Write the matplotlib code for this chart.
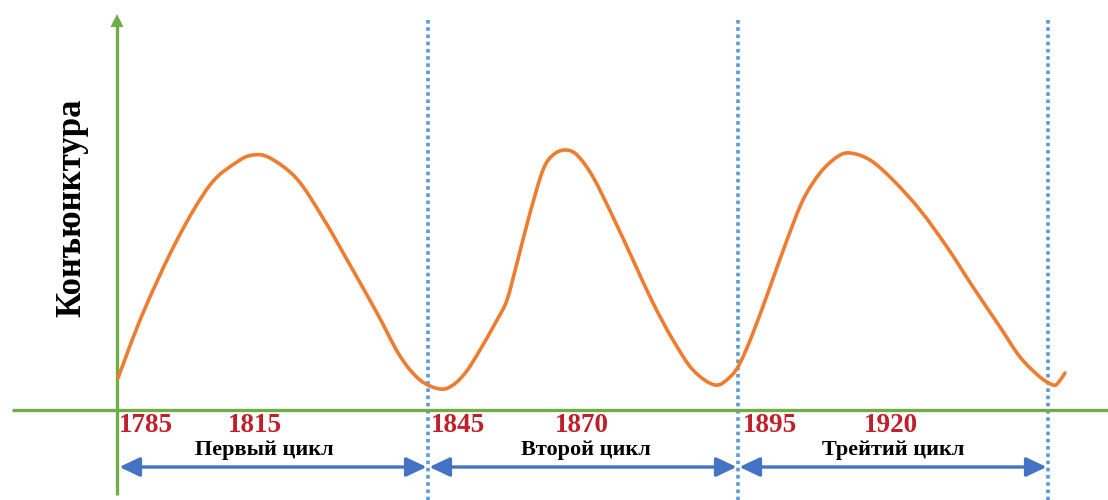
import matplotlib
matplotlib.use("Agg")
import matplotlib.pyplot as plt
from matplotlib.patches import FancyArrowPatch, PathPatch, Polygon
from matplotlib.path import Path

# ---- data (in picture units) ----
curve_x = [118, 143, 177, 210, 237, 253, 270, 297, 323, 350, 377, 400, 420, 440,
           453, 466, 480, 497, 507, 517, 530, 543, 553, 565, 577, 593, 613, 633, 653, 673, 693, 715,
           730, 740, 753, 770, 787, 803, 820, 837, 850, 870, 893, 920, 947, 973, 1000, 1020, 1040,
           1053, 1058, 1065]
curve_y = [378, 313, 240, 185, 162, 155, 158, 179, 218, 265, 313, 356, 380, 389,
           385, 372, 350, 320, 300, 263, 213, 170, 155, 150, 155, 177, 217, 260, 303, 340, 370, 385,
           377, 363, 333, 287, 240, 200, 173, 157, 153, 160, 180, 210, 247, 287, 327, 357, 377,
           385, 383, 373]

boundary_x = [118, 428, 738, 1048]
year_labels = ["1785", "1815", "1845", "1870", "1895", "1920"]
year_x = [119, 255, 431, 582, 743, 891]
year_ha = ["left", "center", "left", "center", "left", "center"]
cycle_labels = ["Первый цикл", "Второй цикл", "Трейтий цикл"]
cycle_x = [264, 586, 893]
y_title = "Конъюнктура"

W, H = 1108, 500
fig = plt.figure(figsize=(W / 100, H / 100), dpi=100)
ax = fig.add_axes([0, 0, 1, 1])
ax.set_xlim(0, W)
ax.set_ylim(H, 0)
ax.axis("off")

green = "#70ad47"
blue = "#4472c4"
dotblue = "#5b9bd5"
red = "#c0202a"
orange = "#ed7d31"
serif = ["Liberation Serif", "DejaVu Serif"]

# axes lines
ax.plot([12, W], [410, 410], color=green, lw=2.4, solid_capstyle="butt", zorder=2)
ax.plot([117, 117], [495, 26], color=green, lw=2.4, solid_capstyle="butt", zorder=2)
ax.add_patch(Polygon([[110.5, 27], [123.5, 27], [117, 14]], closed=True,
                     facecolor=green, edgecolor="none", zorder=2))

# dotted boundaries
for bx in boundary_x[1:]:
    ax.plot([bx, bx], [20, 500], color=dotblue, lw=2.6, linestyle=(0, (1.0, 1.0)), zorder=1)

# smooth curve through the read points (Catmull-Rom as cubic Bezier segments)
pts = list(zip(curve_x, curve_y))
verts = [pts[0]]
codes = [Path.MOVETO]
n = len(pts)
for i in range(n - 1):
    p0 = pts[i - 1] if i > 0 else pts[i]
    p1 = pts[i]
    p2 = pts[i + 1]
    p3 = pts[i + 2] if i + 2 < n else pts[i + 1]
    c1 = (p1[0] + (p2[0] - p0[0]) / 6, p1[1] + (p2[1] - p0[1]) / 6)
    c2 = (p2[0] - (p3[0] - p1[0]) / 6, p2[1] - (p3[1] - p1[1]) / 6)
    verts += [c1, c2, p2]
    codes += [Path.CURVE4] * 3
ax.add_patch(PathPatch(Path(verts, codes), facecolor="none", edgecolor=orange,
                       lw=2.6, capstyle="round", joinstyle="round", zorder=3))

# cycle arrows
for a, b in zip(boundary_x[:-1], boundary_x[1:]):
    arr = FancyArrowPatch((a, 467), (b, 467),
                          arrowstyle="<|-|>,head_width=0.45,head_length=0.95",
                          color=blue, lw=2.4, shrinkA=1, shrinkB=1, mutation_scale=13)
    ax.add_patch(arr)

# year labels
for t, x, ha in zip(year_labels, year_x, year_ha):
    ax.text(x, 426, t, color=red, fontsize=19.5, fontweight="bold", family=serif,
            ha=ha, va="center")

# cycle labels
for t, x in zip(cycle_labels, cycle_x):
    ax.text(x, 450, t, color="black", fontsize=16, fontweight="bold", family=serif,
            ha="center", va="center")

ax.text(72, 208, y_title, rotation=90, color="black", fontsize=25, fontweight="bold",
        family=serif, ha="center", va="center")

fig.savefig("out.png", dpi=100)
